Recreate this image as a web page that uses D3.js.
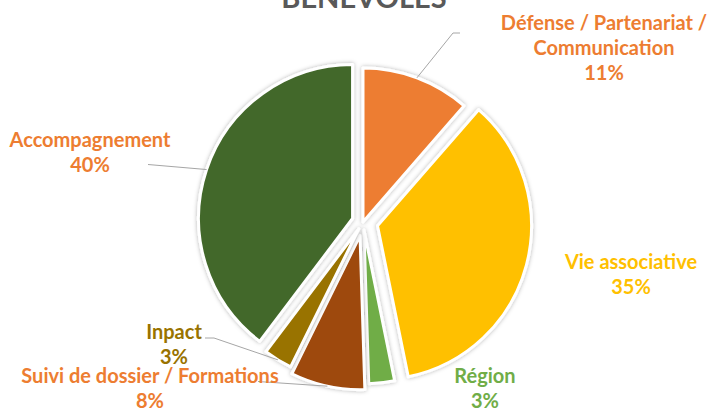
<!DOCTYPE html>
<html><head><meta charset="utf-8">
<script src="https://cdn.jsdelivr.net/npm/d3@7"></script>
<style>body{margin:0;background:#fff;overflow:hidden}svg{display:block}text{font-family:Lato,"Open Sans",sans-serif;font-weight:700}</style>
</head><body><svg id="c" width="708" height="408"></svg>
<script>
const title = "BÉNÉVOLES";
const categories = ["Défense / Partenariat /\nCommunication","Vie associative","Région","Suivi de dossier / Formations","Inpact","Accompagnement"];
const values = [11.4, 35.4, 2.7, 7.8, 3.0, 39.7];
const colors = ["#ED7D31","#FFC000","#70AD47","#9E480E","#997300","#43682B"];
const labelColors = ["#ED7D31","#FFC000","#70AD47","#ED7D31","#997300","#ED7D31"];

// layout
const cx = 363, cy = 222, R = 154;
const explode = [0, 15, 8, 14, 8, 11];
const labelPos = [[604,30],[631,269],[485,383],[150,383],[174,339],[90,147]];
const leaderPts = [[[453,33],[460,33]], null, null, [[258,381.5]], [[214,338],[205,338]], [[148,164.5]]];
const lineH = 25, fs = 20;

const svg = d3.select("#c");
const defs = svg.append("defs");
const f = defs.append("filter").attr("id","sh").attr("x","-20%").attr("y","-20%").attr("width","140%").attr("height","140%");
f.append("feDropShadow").attr("dx",0).attr("dy",0).attr("stdDeviation",2).attr("flood-color","#000").attr("flood-opacity",0.3);

const total = d3.sum(values);
const pie = d3.pie().sort(null).value(d => d)(values);
const arc = d3.arc().innerRadius(0).outerRadius(R);

const centerOf = (d, i) => {
  const a = (d.startAngle + d.endAngle) / 2;
  return [cx + explode[i] * Math.sin(a), cy - explode[i] * Math.cos(a)];
};

svg.append("g").selectAll("path").data(pie).join("path")
  .attr("transform", (d,i) => { const c = centerOf(d,i); return `translate(${c[0]},${c[1]})`; })
  .attr("d", arc)
  .attr("fill", (d,i) => colors[i])
  .attr("stroke", "#fff").attr("stroke-width", 3).attr("stroke-linejoin","round")
  .attr("filter", "url(#sh)");

// leader lines
const lg = svg.append("g");
pie.forEach((d,i) => {
  if (!leaderPts[i]) return;
  const c = centerOf(d,i), a = (d.startAngle + d.endAngle)/2;
  const p0 = [c[0] + R*Math.sin(a), c[1] - R*Math.cos(a)];
  const pts = [p0, ...leaderPts[i]];
  lg.append("path").attr("d", d3.line()(pts)).attr("fill","none").attr("stroke","#A6A6A6").attr("stroke-width",1);
});

// labels
const tg = svg.append("g");
pie.forEach((d,i) => {
  const lines = categories[i].split("\n").concat([Math.round(values[i]/total*100) + "%"]);
  const t = tg.append("text").attr("text-anchor","middle").attr("font-size",fs).attr("fill",labelColors[i]);
  lines.forEach((s,k) => t.append("tspan").attr("x",labelPos[i][0]).attr("y",labelPos[i][1] + k*lineH).text(s));
});

svg.append("text").attr("x",364).attr("y",7.5).attr("text-anchor","middle").attr("font-size",29).attr("fill","#595959").text(title);
</script></body></html>
